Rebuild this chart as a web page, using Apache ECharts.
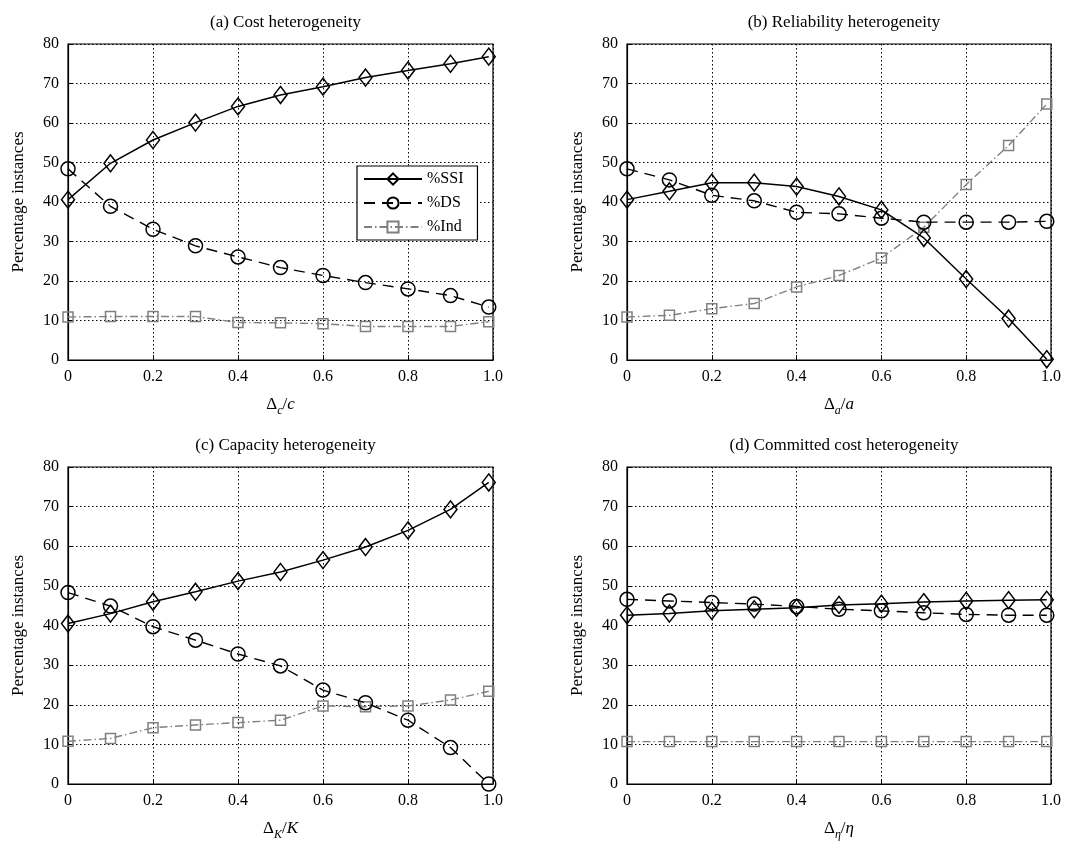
<!DOCTYPE html>
<html><head><meta charset="utf-8">
<script src="https://cdn.jsdelivr.net/npm/echarts@6/dist/echarts.min.js"></script>
<style>html,body{margin:0;padding:0;background:#fff}#c{width:1082px;height:844px}</style>
</head><body><div id="c"></div>
<script>
const xValues = [0, 0.1, 0.2, 0.3, 0.4, 0.5, 0.6, 0.7, 0.8, 0.9, 0.99];
const yTicks = [0, 10, 20, 30, 40, 50, 60, 70, 80];
const xTicks = ['0', '0.2', '0.4', '0.6', '0.8', '1.0'];
const seriesNames = ['%SSI', '%DS', '%Ind'];
const panelTitles = ['(a) Cost heterogeneity', '(b) Reliability heterogeneity', '(c) Capacity heterogeneity', '(d) Committed cost heterogeneity'];
const xSub = ['c', 'a', 'K', 'η'];

const ssiA = [40.6, 49.8, 55.7, 60.1, 64.2, 67.1, 69.2, 71.5, 73.3, 75.0, 76.8];
const dsA  = [48.4, 38.9, 33.1, 28.9, 26.1, 23.4, 21.4, 19.6, 18.0, 16.3, 13.4];
const indA = [10.9, 11.0, 11.0, 11.0, 9.5, 9.4, 9.2, 8.5, 8.5, 8.5, 9.7];

const ssiB = [40.6, 42.7, 44.9, 44.9, 43.9, 41.4, 38.0, 30.9, 20.5, 10.5, 0.2];
const dsB  = [48.4, 45.6, 41.7, 40.3, 37.4, 37.0, 35.9, 34.9, 34.9, 34.9, 35.1];
const indB = [10.9, 11.3, 13.0, 14.3, 18.5, 21.4, 25.8, 33.6, 44.4, 54.3, 64.8];

const ssiC = [40.5, 43.0, 46.0, 48.5, 51.2, 53.5, 56.5, 59.8, 64.0, 69.3, 76.1];
const dsC  = [48.3, 44.9, 39.7, 36.3, 32.8, 29.8, 23.7, 20.5, 16.1, 9.2, 0.0];
const indC = [10.8, 11.5, 14.2, 14.9, 15.5, 16.1, 19.7, 19.5, 19.7, 21.2, 23.4];

const ssiD = [42.6, 43.0, 43.7, 44.1, 44.5, 45.2, 45.5, 45.9, 46.2, 46.4, 46.5];
const dsD  = [46.6, 46.2, 45.8, 45.4, 44.8, 44.1, 43.7, 43.2, 42.8, 42.6, 42.6];
const indD = [10.7, 10.7, 10.7, 10.7, 10.7, 10.7, 10.7, 10.7, 10.7, 10.7, 10.7];

const panels = [[ssiA, dsA, indA], [ssiB, dsB, indB], [ssiC, dsC, indC], [ssiD, dsD, indD]];

const FONT = 'Liberation Serif';
const grids = [
  {left: 68, top: 44, width: 425, height: 316},
  {left: 627, top: 44, width: 424, height: 316},
  {left: 68, top: 467, width: 425, height: 317},
  {left: 627, top: 467, width: 424, height: 317}
].map(g => Object.assign(g, {show: true, borderColor: '#000', borderWidth: 1.2, containLabel: false}));

const gridLine = {show: true, lineStyle: {color: '#000', type: [1.5, 2.5], width: 1}};
const styles = [
  {symbol: 'diamond', symbolSize: [13, 17], line: {color: '#000', width: 1.5, type: 'solid'}, border: '#000'},
  {symbol: 'circle', symbolSize: 14, line: {color: '#000', width: 1.4, type: [11, 7]}, border: '#000'},
  {symbol: 'rect', symbolSize: 10, line: {color: '#808080', width: 1.4, type: [8, 3, 1.5, 3]}, border: '#808080'}
];

const xAxes = [], yAxes = [], series = [], titles = [];
panels.forEach((p, i) => {
  const g = grids[i];
  titles.push({text: panelTitles[i], left: g.left + g.width / 2, top: g.top - 35, textAlign: 'center',
    textStyle: {fontFamily: FONT, fontSize: 17, fontWeight: 'normal', color: '#000'}});
  xAxes.push({
    type: 'value', gridIndex: i, min: 0, max: 1, interval: 0.2,
    name: '{d|Δ}{s|' + xSub[i] + '}{d|/}{i|' + xSub[i] + '}',
    nameLocation: 'middle', nameGap: 33,
    nameTextStyle: {fontFamily: FONT, color: '#000', rich: {
      d: {fontFamily: FONT, fontSize: 17, color: '#000', lineHeight: 24},
      i: {fontFamily: FONT, fontSize: 17, color: '#000', fontStyle: 'italic', lineHeight: 24},
      s: {fontFamily: FONT, fontSize: 12, color: '#000', fontStyle: 'italic', lineHeight: 12, verticalAlign: 'bottom'}
    }},
    axisLine: {lineStyle: {color: '#000', width: 1.2}},
    axisTick: {inside: true, length: 5, lineStyle: {color: '#000'}},
    axisLabel: {fontFamily: FONT, fontSize: 16, color: '#000', margin: 9,
      formatter: v => xTicks[Math.round(v / 0.2)]},
    splitLine: gridLine
  });
  yAxes.push({
    type: 'value', gridIndex: i, min: yTicks[0], max: yTicks[yTicks.length - 1], interval: 10,
    name: 'Percentage instances', nameLocation: 'middle', nameGap: 41,
    nameTextStyle: {fontFamily: FONT, fontSize: 17, color: '#000'},
    axisLine: {show: true, lineStyle: {color: '#000', width: 1.2}},
    axisTick: {show: true, inside: true, length: 5, lineStyle: {color: '#000'}},
    axisLabel: {fontFamily: FONT, fontSize: 16, color: '#000', margin: 9},
    splitLine: gridLine
  });
  p.forEach((vals, k) => {
    const s = styles[k];
    series.push({
      name: seriesNames[k], type: 'line', xAxisIndex: i, yAxisIndex: i,
      data: xValues.map((x, j) => [x, vals[j]]),
      symbol: s.symbol, symbolSize: s.symbolSize, showAllSymbol: true,
      lineStyle: s.line,
      itemStyle: {color: 'rgba(255,255,255,0)', borderColor: s.border, borderWidth: 1.5},
      emphasis: {disabled: true}, animation: false, z: 3 - k
    });
  });
});

const chart = echarts.init(document.getElementById('c'), null, {renderer: 'canvas'});
chart.setOption({
  backgroundColor: '#fff',
  animation: false,
  title: titles,
  legend: {
    data: seriesNames, orient: 'vertical', left: 357, top: 166,
    backgroundColor: '#fff', borderColor: '#000', borderWidth: 1.2,
    padding: [5, 14, 5, 6], itemGap: 8, itemWidth: 58, itemHeight: 14,
    textStyle: {fontFamily: FONT, fontSize: 16, color: '#000'},
    selectedMode: false
  },
  grid: grids, xAxis: xAxes, yAxis: yAxes, series: series
});
</script></body></html>
